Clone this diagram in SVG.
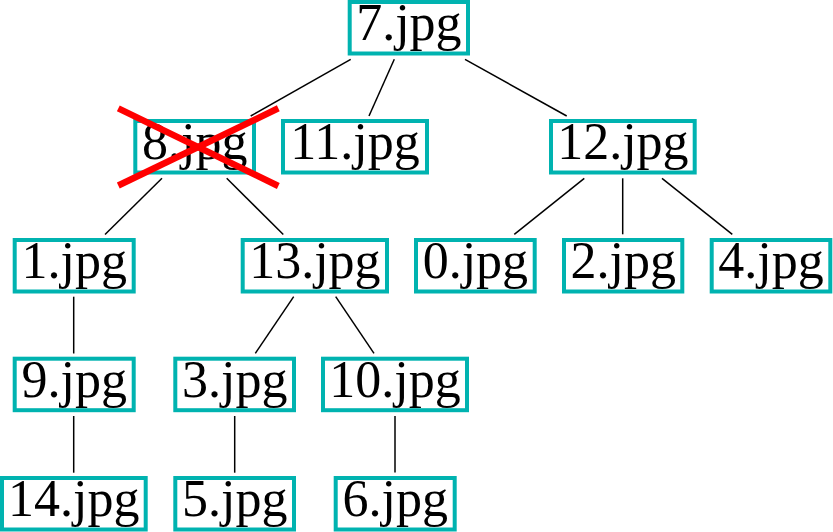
<svg xmlns="http://www.w3.org/2000/svg" width="833" height="532" viewBox="0 0 833 532">
<style>
.box{fill:#ffffff;stroke:#00b3b0;stroke-width:4}
.lbl{font-family:"Liberation Serif","Times New Roman",serif;font-size:52px;fill:#000;text-anchor:middle}
.edge{stroke:#000;stroke-width:1.5;fill:none}
.cross{stroke:#ff0000;stroke-width:6.5;fill:none}
</style>
<rect width="833" height="532" fill="#ffffff"/>
<g id="connectors">
<line class="edge" x1="350.7" y1="59.3" x2="250.7" y2="116"/>
<line class="edge" x1="394.3" y1="59.3" x2="369" y2="116"/>
<line class="edge" x1="465" y1="59.3" x2="566.7" y2="116"/>
<line class="edge" x1="162" y1="178.3" x2="105" y2="234.5"/>
<line class="edge" x1="226.7" y1="178.3" x2="283.3" y2="234.5"/>
<line class="edge" x1="584.3" y1="178.3" x2="514.3" y2="234.3"/>
<line class="edge" x1="622.7" y1="178.3" x2="622.7" y2="234.3"/>
<line class="edge" x1="662" y1="178.3" x2="732.3" y2="234.3"/>
<line class="edge" x1="73.7" y1="296.7" x2="73.7" y2="353.5"/>
<line class="edge" x1="293.7" y1="296.7" x2="255.3" y2="353.3"/>
<line class="edge" x1="335.7" y1="296.7" x2="374" y2="353.3"/>
<line class="edge" x1="73.7" y1="416" x2="73.7" y2="472.7"/>
<line class="edge" x1="234.7" y1="416" x2="234.7" y2="472.7"/>
<line class="edge" x1="395" y1="416" x2="395" y2="472.5"/>
</g>
<g id="n7"><rect class="box" x="349.7" y="2" width="118.3" height="51.5"/><text class="lbl" x="408.9" y="40">7.jpg</text></g>
<g id="n8"><rect class="box" x="135.3" y="121" width="118.7" height="51.5"/><text class="lbl" x="194.7" y="159">8.jpg</text>
<line class="cross" x1="118.3" y1="108.3" x2="278.3" y2="186"/>
<line class="cross" x1="118.3" y1="185.5" x2="278.3" y2="108.3"/></g>
<g id="n11"><rect class="box" x="283" y="121" width="144" height="51.5"/><text class="lbl" x="355" y="159">11.jpg</text></g>
<g id="n12"><rect class="box" x="551" y="121" width="143.7" height="51.5"/><text class="lbl" x="622.9" y="159">12.jpg</text></g>
<g id="n1"><rect class="box" x="14.7" y="240" width="119" height="51.5"/><text class="lbl" x="74.2" y="278">1.jpg</text></g>
<g id="n13"><rect class="box" x="242.7" y="240" width="144.3" height="51.5"/><text class="lbl" x="314.9" y="278">13.jpg</text></g>
<g id="n0"><rect class="box" x="416" y="240" width="118.7" height="51.5"/><text class="lbl" x="475.4" y="278">0.jpg</text></g>
<g id="n2"><rect class="box" x="564" y="240" width="118.3" height="51.5"/><text class="lbl" x="623.2" y="278">2.jpg</text></g>
<g id="n4"><rect class="box" x="711.7" y="240" width="118.6" height="51.5"/><text class="lbl" x="771" y="278">4.jpg</text></g>
<g id="n9"><rect class="box" x="14.7" y="358.7" width="119" height="51.5"/><text class="lbl" x="74.2" y="396.7">9.jpg</text></g>
<g id="n3"><rect class="box" x="175.3" y="358.7" width="118.7" height="51.5"/><text class="lbl" x="234.7" y="396.7">3.jpg</text></g>
<g id="n10"><rect class="box" x="323" y="358.7" width="144" height="51.5"/><text class="lbl" x="395" y="396.7">10.jpg</text></g>
<g id="n14"><rect class="box" x="2" y="478" width="143.7" height="51.5"/><text class="lbl" x="73.8" y="516">14.jpg</text></g>
<g id="n5"><rect class="box" x="175.3" y="478" width="118.7" height="51.5"/><text class="lbl" x="234.7" y="516">5.jpg</text></g>
<g id="n6"><rect class="box" x="335.7" y="478" width="119" height="51.5"/><text class="lbl" x="395.2" y="516">6.jpg</text></g>
</svg>
